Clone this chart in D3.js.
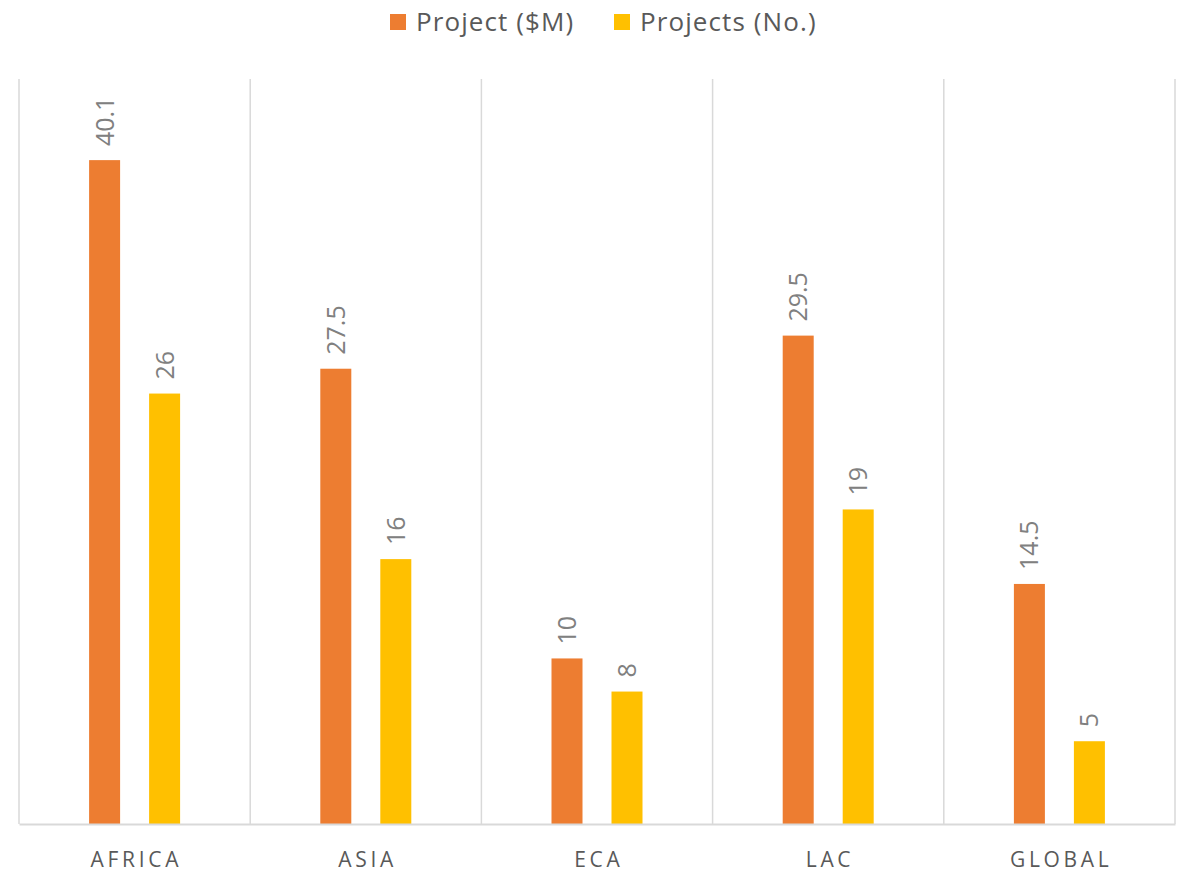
<!DOCTYPE html>
<html>
<head>
<meta charset="utf-8">
<script src="https://cdn.jsdelivr.net/npm/d3@7"></script>
<style>
  body { margin: 0; background: #fff; }
  svg { display: block; }
</style>
</head>
<body>
<svg id="chart" width="1179" height="874"></svg>
<script>
const categories = ["AFRICA", "ASIA", "ECA", "LAC", "GLOBAL"];
const seriesNames = ["Project ($M)", "Projects (No.)"];
const projectMillions = [40.1, 27.5, 10, 29.5, 14.5];
const projectCounts = [26, 16, 8, 19, 5];
const seriesColors = ["#ED7D31", "#FFC000"];

const FONT = "'Open Sans', Lato, sans-serif";
const svg = d3.select("#chart");
const W = 1179, H = 874;
const margin = { top: 79, right: 4, bottom: 50, left: 19 };
const plotW = W - margin.left - margin.right;
const plotH = H - margin.top - margin.bottom;

const g = svg.append("g").attr("transform", `translate(${margin.left},${margin.top})`);

const x = d3.scaleBand().domain(categories).range([0, plotW]).padding(0);
const y = d3.scaleLinear().domain([0, 45]).range([plotH, 0]);

const barW = 31;
const offsets = [-30, 30];
const series = [projectMillions, projectCounts];

// vertical gridlines at category boundaries
const bounds = categories.map(c => x(c)).concat([plotW]);
g.selectAll("line.grid").data(bounds).enter().append("line")
  .attr("class", "grid")
  .attr("x1", d => d).attr("x2", d => d)
  .attr("y1", 0).attr("y2", plotH)
  .attr("stroke", "#D9D9D9").attr("stroke-width", 1.5);

// bars
series.forEach((vals, si) => {
  const data = categories.map((c, i) => ({ c, v: vals[i] }));
  g.selectAll(`rect.s${si}`).data(data).enter().append("rect")
    .attr("class", `s${si}`)
    .attr("x", d => x(d.c) + x.bandwidth() / 2 + offsets[si] - barW / 2)
    .attr("width", barW)
    .attr("y", d => y(d.v))
    .attr("height", d => plotH - y(d.v))
    .attr("fill", seriesColors[si]);

  g.selectAll(`text.l${si}`).data(data).enter().append("text")
    .attr("class", `l${si}`)
    .attr("transform", d => `translate(${x(d.c) + x.bandwidth() / 2 + offsets[si] + 9},${y(d.v) - 14}) rotate(-90)`)
    .attr("text-anchor", "start")
    .attr("font-family", FONT)
    .attr("font-size", 25)
    .attr("fill", "#808080")
    .text(d => d.v);
});

// baseline axis
const xAxis = d3.axisBottom(x).tickSize(0).tickPadding(28);
const ax = g.append("g").attr("transform", `translate(0,${plotH})`).call(xAxis);
ax.select(".domain").attr("stroke", "#D9D9D9").attr("stroke-width", 2);
ax.selectAll("text")
  .attr("font-family", FONT)
  .attr("font-size", 21)
  .attr("letter-spacing", "3.7px")
  .attr("dx", "1.8px")
  .attr("fill", "#595959");

// legend
const legend = svg.append("g");
const legendX = [390, 614];
seriesNames.forEach((name, i) => {
  const lg = legend.append("g").attr("transform", `translate(${legendX[i]},0)`);
  lg.append("rect").attr("x", 0).attr("y", 14).attr("width", 16).attr("height", 16).attr("fill", seriesColors[i]);
  lg.append("text").attr("x", 26).attr("y", 31)
    .attr("font-family", FONT)
    .attr("font-size", 26)
    .attr("letter-spacing", "1.1px")
    .attr("fill", "#595959")
    .text(name);
});
</script>
</body>
</html>
